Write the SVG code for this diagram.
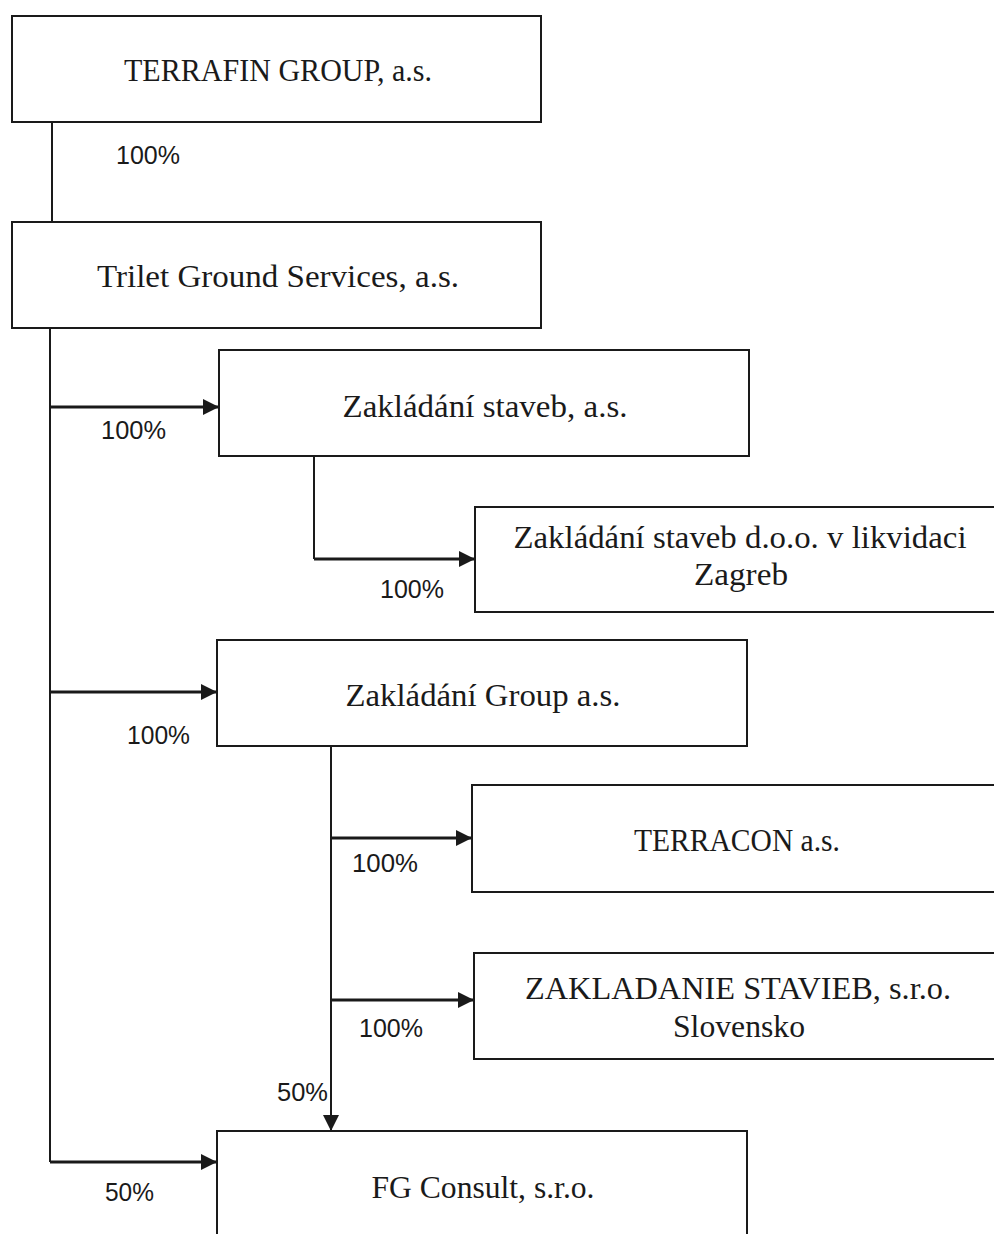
<svg xmlns="http://www.w3.org/2000/svg" width="994" height="1234" viewBox="0 0 994 1234">
<style>
.box{fill:#fff;stroke:#1a1a1a;stroke-width:2}
.nt{font-family:"Liberation Serif","Times New Roman",serif;font-size:31px;fill:#1a1a1a;text-anchor:middle}
.lb{font-family:"Liberation Sans",Arial,sans-serif;font-size:26px;fill:#1a1a1a}
.ln{fill:none;stroke:#1a1a1a;stroke-width:2}
.ar{fill:none;stroke:#1a1a1a;stroke-width:3}
</style>
<defs>
<marker id="ah" markerUnits="userSpaceOnUse" markerWidth="18" markerHeight="18" refX="16" refY="8" orient="auto">
<path d="M0,0 L16,8 L0,16 Z" fill="#1a1a1a"/>
</marker>
</defs>
<rect width="994" height="1234" fill="#fff"/>
<g id="connectors">
<path class="ln" d="M52,122 V222"/>
<path class="ln" d="M50,328 V1162"/>
<path class="ar" d="M50,407 H219" marker-end="url(#ah)"/>
<path class="ln" d="M314,456 V559"/>
<path class="ar" d="M314,559 H475" marker-end="url(#ah)"/>
<path class="ar" d="M50,692 H217" marker-end="url(#ah)"/>
<path class="ln" d="M331,746 V1131" marker-end="url(#ah)"/>
<path class="ar" d="M331,838 H472" marker-end="url(#ah)"/>
<path class="ar" d="M331,1000 H474" marker-end="url(#ah)"/>
<path class="ar" d="M50,1162 H217" marker-end="url(#ah)"/>
<text class="lb" x="116" y="164" textLength="64" lengthAdjust="spacingAndGlyphs">100%</text>
<text class="lb" x="101" y="439" textLength="65" lengthAdjust="spacingAndGlyphs">100%</text>
<text class="lb" x="380" y="598" textLength="64" lengthAdjust="spacingAndGlyphs">100%</text>
<text class="lb" x="127" y="744" textLength="63" lengthAdjust="spacingAndGlyphs">100%</text>
<text class="lb" x="352" y="872" textLength="66" lengthAdjust="spacingAndGlyphs">100%</text>
<text class="lb" x="359" y="1037" textLength="64" lengthAdjust="spacingAndGlyphs">100%</text>
<text class="lb" x="277" y="1101" textLength="51" lengthAdjust="spacingAndGlyphs">50%</text>
<text class="lb" x="105" y="1201" textLength="49" lengthAdjust="spacingAndGlyphs">50%</text>
</g>
<g id="terrafin">
<rect class="box" x="12" y="16" width="529" height="106"/>
<text class="nt" x="278" y="81" textLength="308" lengthAdjust="spacingAndGlyphs">TERRAFIN GROUP, a.s.</text>
</g>
<g id="trilet">
<rect class="box" x="12" y="222" width="529" height="106"/>
<text class="nt" x="278" y="287" textLength="362" lengthAdjust="spacingAndGlyphs">Trilet Ground Services, a.s.</text>
</g>
<g id="zakladani-staveb">
<rect class="box" x="219" y="350" width="530" height="106"/>
<text class="nt" x="485" y="417" textLength="285" lengthAdjust="spacingAndGlyphs">Zakládání staveb, a.s.</text>
</g>
<g id="zagreb">
<rect class="box" x="475" y="507" width="540" height="105"/>
<text class="nt" x="740" y="548" textLength="453" lengthAdjust="spacingAndGlyphs">Zakládání staveb d.o.o. v likvidaci</text>
<text class="nt" x="741" y="585" textLength="94" lengthAdjust="spacingAndGlyphs">Zagreb</text>
</g>
<g id="zakladani-group">
<rect class="box" x="217" y="640" width="530" height="106"/>
<text class="nt" x="483" y="706" textLength="275" lengthAdjust="spacingAndGlyphs">Zakládání Group a.s.</text>
</g>
<g id="terracon">
<rect class="box" x="472" y="785" width="540" height="107"/>
<text class="nt" x="737" y="851" textLength="206" lengthAdjust="spacingAndGlyphs">TERRACON a.s.</text>
</g>
<g id="zakladanie-stavieb">
<rect class="box" x="474" y="953" width="540" height="106"/>
<text class="nt" x="738" y="999" textLength="426" lengthAdjust="spacingAndGlyphs">ZAKLADANIE STAVIEB, s.r.o.</text>
<text class="nt" x="739" y="1037" textLength="132" lengthAdjust="spacingAndGlyphs">Slovensko</text>
</g>
<g id="fg-consult">
<rect class="box" x="217" y="1131" width="530" height="120"/>
<text class="nt" x="483" y="1198" textLength="223" lengthAdjust="spacingAndGlyphs">FG Consult, s.r.o.</text>
</g>
</svg>
